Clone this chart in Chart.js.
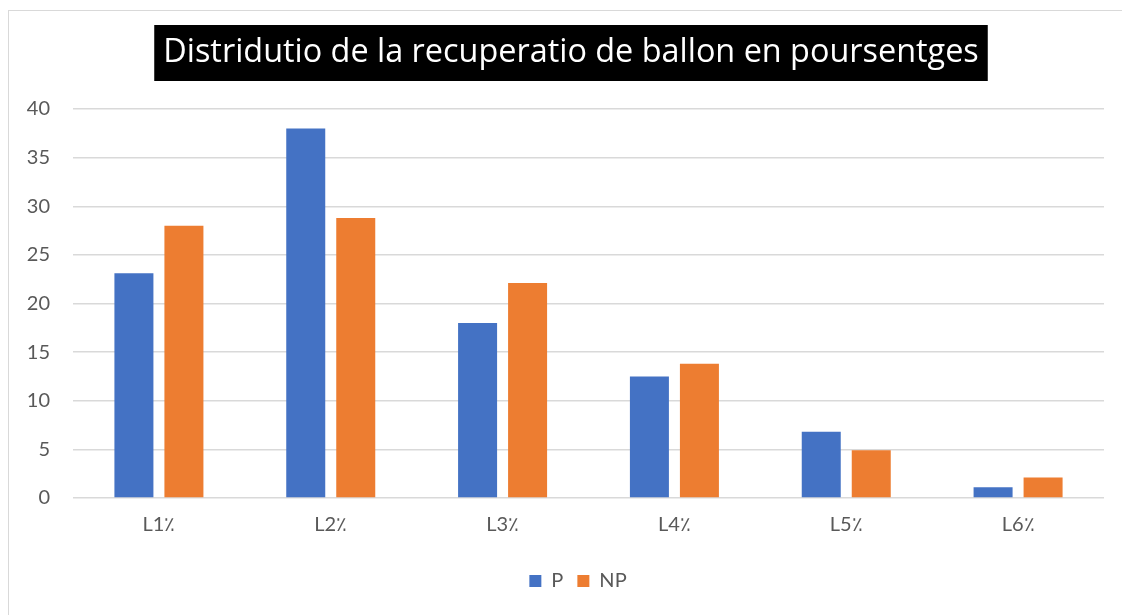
<!DOCTYPE html>
<html>
<head>
<meta charset="utf-8">
<script src="https://cdn.jsdelivr.net/npm/chart.js@4/dist/chart.umd.min.js"></script>
<style>
  html, body { margin: 0; padding: 0; background: #fff; overflow: hidden; }
  #frame { position: absolute; left: 8px; top: 10px; width: 1130px; height: 620px; border: 1px solid #d9d9d9; }
  #wrap { position: absolute; left: 0; top: 0; width: 1122px; height: 615px; }
</style>
</head>
<body>
<div id="frame"></div>
<div id="wrap"><canvas id="myChart" width="1122" height="615"></canvas></div>
<script>
// 데이터
const labels = ['L1٪', 'L2٪', 'L3٪', 'L4٪', 'L5٪', 'L6٪'];
const valuesP = [23.1, 38, 18, 12.5, 6.8, 1.1];
const valuesNP = [28, 28.8, 22.1, 13.8, 4.9, 2.1];
const yTicks = [0, 5, 10, 15, 20, 25, 30, 35, 40];
const titleText = 'Distridutio de la recuperatio de ballon en poursentges';

// 제목 글꼴 크기: 원본 폭(약 815px)에 맞춤
const titleFont = 'Open Sans';
const m = document.createElement('canvas').getContext('2d');
m.font = '32px "' + titleFont + '"';
const titleSize = Math.round(32 * 815 / m.measureText(titleText).width * 10) / 10;

// 제목/범례를 원본처럼 오른쪽으로 살짝 이동
const shiftBoxes = {
    id: 'shiftBoxes',
    afterLayout(chart) {
        const t = chart.titleBlock, l = chart.legend;
        if (t) { t.left += 19; t.right += 19; }
        if (l) { l.left += 26; l.right += 26; }
    }
};

// 제목 뒤 검은 상자
const titleBox = {
    id: 'titleBox',
    beforeDraw(chart) {
        const t = chart.titleBlock;
        if (!t) return;
        const ctx = chart.ctx;
        ctx.save();
        ctx.font = titleSize + 'px "' + titleFont + '"';
        const w = ctx.measureText(titleText).width;
        const cx = (t.left + t.right) / 2;
        ctx.fillStyle = '#000';
        ctx.fillRect(cx - w / 2 - 9, t.top, w + 18, 56);
        ctx.restore();
    }
};

const ctx = document.getElementById('myChart').getContext('2d');
const myChart = new Chart(ctx, {
    type: 'bar',
    data: {
        labels: labels,
        datasets: [{
            label: 'P',
            data: valuesP,
            backgroundColor: '#4472C4'
        }, {
            label: 'NP',
            data: valuesNP,
            backgroundColor: '#ED7D31'
        }]
    },
    options: {
        responsive: false,
        animation: false,
        categoryPercentage: 0.582,
        barPercentage: 0.78,
        layout: {
            padding: { top: 25, right: 18, bottom: 14, left: 0 }
        },
        scales: {
            x: {
                grid: { display: false, drawTicks: false },
                border: { display: false },
                ticks: { color: '#595959', font: { family: 'Lato', size: 20 }, padding: 15 },
                afterFit(scale) { scale.height = 59; }
            },
            y: {
                min: 0,
                max: 40,
                afterBuildTicks(scale) { scale.ticks = yTicks.map(v => ({ value: v })); },
                grid: { color: '#d9d9d9', lineWidth: 1.5, drawTicks: false },
                border: { display: false },
                ticks: { color: '#595959', font: { family: 'Lato', size: 20 }, padding: 23 },
                afterFit(scale) { scale.width = 73; }
            }
        },
        plugins: {
            title: {
                display: true,
                text: titleText,
                color: '#fff',
                font: { family: titleFont, size: titleSize, weight: 'normal', lineHeight: 56 / titleSize },
                padding: { top: 0, bottom: 28 }
            },
            legend: {
                display: true,
                position: 'bottom',
                labels: {
                    color: '#595959',
                    font: { family: 'Lato', size: 20 },
                    boxWidth: 12,
                    boxHeight: 12,
                    padding: 14
                }
            },
            tooltip: { enabled: false }
        }
    },
    plugins: [shiftBoxes, titleBox]
});
</script>
</body>
</html>
